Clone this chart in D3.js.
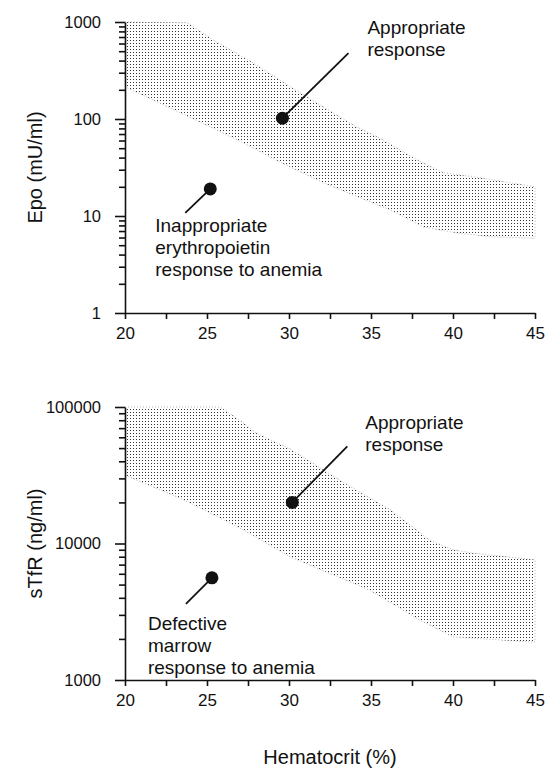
<!DOCTYPE html>
<html>
<head>
<meta charset="utf-8">
<script src="https://cdn.jsdelivr.net/npm/d3@7"></script>
<style>
  body { margin:0; background:#fff; }
  svg text { font-family: "Liberation Sans", Arial, sans-serif; fill:#111; }
  .tick text { font-size:16px; }
  .axis path, .axis line { stroke:#111; stroke-width:1.6; }
</style>
</head>
<body>
<svg id="chart" width="549" height="778"></svg>
<script>
// hematocrit ticks
var hctTicks = [20, 22.5, 25, 27.5, 30, 32.5, 35, 37.5, 40, 42.5, 45];

// Epo band (mU/ml)
var epoUpperHct = [20, 23.8, 25.4, 27.8, 30.1, 32.1, 34.1, 35.5, 37.8, 39.4, 41.5, 45];
var epoUpper    = [1000, 980, 650, 380, 214, 133, 83, 64, 38, 28, 25, 20];
var epoLowerHct = [20, 25.2, 27.2, 29.6, 32.1, 34.1, 36.2, 38.2, 40.2, 42.3, 45];
var epoLower    = [215, 83, 57, 35, 22, 16, 11.5, 7.7, 6.7, 6.1, 5.9];

// sTfR band (ng/ml)
var stfrUpperHct = [20, 25.8, 27.0, 28.0, 30.1, 32.1, 34.1, 36.2, 38.6, 40.0, 41.2, 45];
var stfrUpper    = [100000, 100000, 80000, 64500, 49000, 34500, 24600, 17600, 10500, 9000, 8500, 7600];
var stfrLowerHct = [20, 23.2, 25.2, 27.2, 30.1, 34.9, 37.95, 40.0, 44.7, 45];
var stfrLower    = [31700, 21900, 16700, 12600, 7960, 4570, 2760, 2070, 1900, 1900];

// example patients
var epoPointHct  = [29.6, 25.2];
var epoPointVal  = [102, 19];
var stfrPointHct = [30.2, 25.3];
var stfrPointVal = [20000, 5600];

var epoNotes  = [["Appropriate", "response"], ["Inappropriate", "erythropoietin", "response to anemia"]];
var stfrNotes = [["Appropriate", "response"], ["Defective", "marrow", "response to anemia"]];

var svg = d3.select("#chart");

var defs = svg.append("defs");
var pat = defs.append("pattern")
  .attr("id", "stipple")
  .attr("patternUnits", "userSpaceOnUse")
  .attr("width", 3).attr("height", 3);
pat.append("rect").attr("x", 1).attr("y", 1).attr("width", 1).attr("height", 1).attr("fill", "#333");

var x = d3.scaleLinear().domain([20, 45]).range([125, 535]);

// leader offsets and text offsets (px) relative to each dot
var noteLayout = {
  epo:  [{lx:66, ly:-65, tx:85, ty:-84}, {lx:-25, ly:24, tx:-55, ty:43}],
  stfr: [{lx:55, ly:-56, tx:73, ty:-73}, {lx:-26, ly:26, tx:-64, ty:52}]
};

function panel(cfg) {
  var y = d3.scaleLog().domain(cfg.domain).range(cfg.range);
  var g = svg.append("g");

  // band polygon
  var upper = cfg.upperHct.map(function(h, i){ return [x(h), y(cfg.upper[i])]; });
  var lower = cfg.lowerHct.map(function(h, i){ return [x(h), y(cfg.lower[i])]; }).reverse();
  var pts = upper.concat(lower);
  g.append("path")
    .attr("d", "M" + pts.join("L") + "Z")
    .attr("fill", "url(#stipple)")
    .attr("stroke", "#888")
    .attr("stroke-width", 0.6)
    .attr("stroke-dasharray", "1,2");

  // x axis
  var xAxis = d3.axisBottom(x)
    .tickValues(hctTicks)
    .tickFormat(function(d){ return d % 5 === 0 ? d : ""; })
    .tickSize(6).tickSizeOuter(0);
  g.append("g").attr("class", "axis")
    .attr("transform", "translate(0," + cfg.range[0] + ")")
    .call(xAxis)
    .selectAll("text").attr("dy", "1em").style("font-size", "17px");

  // y axis, log ticks with minor marks
  var yTicks = [];
  var lo = Math.log10(cfg.domain[0]), hi = Math.log10(cfg.domain[1]);
  for (var e = lo; e < hi; e++) {
    for (var m = 1; m < 10; m++) yTicks.push(m * Math.pow(10, e));
  }
  yTicks.push(cfg.domain[1]);
  var yAxis = d3.axisLeft(y)
    .tickValues(yTicks)
    .tickFormat(function(d){
      var l = Math.log10(d);
      return Math.abs(l - Math.round(l)) < 1e-9 ? d3.format("d")(d) : "";
    })
    .tickSizeOuter(0);
  var ya = g.append("g").attr("class", "axis")
    .attr("transform", "translate(" + x(20) + ",0)")
    .call(yAxis);
  ya.selectAll(".tick line").attr("x2", function(d){
    var l = Math.log10(d);
    return Math.abs(l - Math.round(l)) < 1e-9 ? -10 : -6;
  });
  ya.selectAll(".tick text").attr("x", -24).style("font-size", "16.5px");

  // y title
  g.append("text")
    .attr("transform", "translate(42," + ((cfg.range[0] + cfg.range[1]) / 2) + ") rotate(-90)")
    .attr("text-anchor", "middle")
    .style("font-size", "20px")
    .text(cfg.title);

  // points with leaders and notes
  cfg.pointHct.forEach(function(h, i){
    var px = x(h), py = y(cfg.pointVal[i]);
    var lay = cfg.layout[i];
    g.append("line")
      .attr("x1", px).attr("y1", py)
      .attr("x2", px + lay.lx).attr("y2", py + lay.ly)
      .attr("stroke", "#111").attr("stroke-width", 1.8);
    g.append("circle")
      .attr("cx", px).attr("cy", py).attr("r", 6.5)
      .attr("fill", "#111");
    var t = g.append("text")
      .attr("x", px + lay.tx).attr("y", py + lay.ty)
      .style("font-size", "19px");
    cfg.notes[i].forEach(function(s, j){
      t.append("tspan").attr("x", px + lay.tx).attr("dy", j === 0 ? 0 : 22).text(s);
    });
  });
}

panel({
  domain:[1, 1000], range:[313, 22], title:"Epo (mU/ml)",
  upperHct:epoUpperHct, upper:epoUpper, lowerHct:epoLowerHct, lower:epoLower,
  pointHct:epoPointHct, pointVal:epoPointVal, notes:epoNotes, layout:noteLayout.epo
});
panel({
  domain:[1000, 100000], range:[680, 407], title:"sTfR (ng/ml)",
  upperHct:stfrUpperHct, upper:stfrUpper, lowerHct:stfrLowerHct, lower:stfrLower,
  pointHct:stfrPointHct, pointVal:stfrPointVal, notes:stfrNotes, layout:noteLayout.stfr
});

svg.append("text")
  .attr("x", x(32.5)).attr("y", 764)
  .attr("text-anchor", "middle")
  .style("font-size", "20px")
  .text("Hematocrit (%)");
</script>
</body>
</html>
